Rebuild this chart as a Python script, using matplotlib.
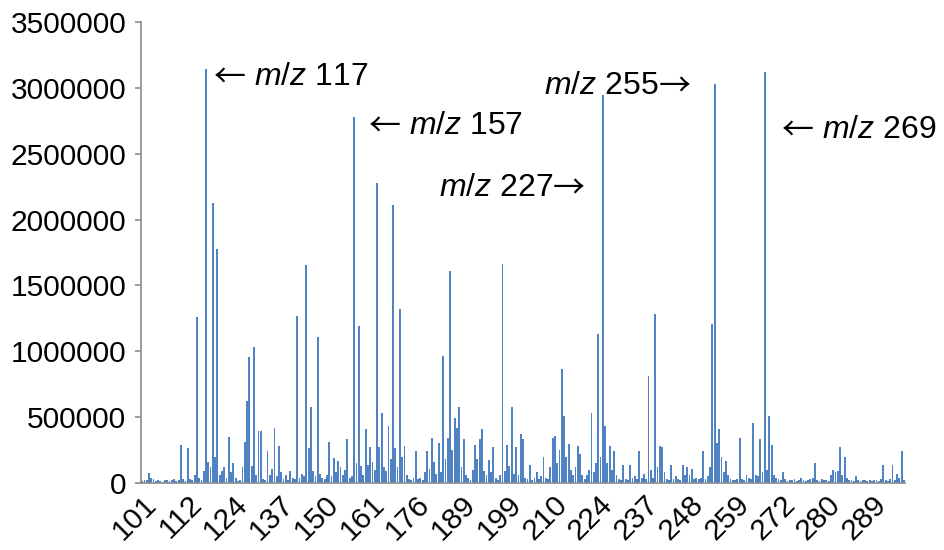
import matplotlib
matplotlib.use('Agg')
import matplotlib.pyplot as plt
import numpy as np

plt.rcParams['font.family'] = ['Liberation Sans', 'DejaVu Sans']
plt.rcParams['mathtext.fontset'] = 'custom'
plt.rcParams['mathtext.rm'] = 'Liberation Sans'
plt.rcParams['mathtext.it'] = 'Liberation Sans:italic'

# m/z shown under every 20th scan point
tick_labels = ['101', '112', '124', '137', '150', '161', '176', '189', '199',
               '210', '224', '237', '248', '259', '272', '280', '289']
label_step = 20

# intensity of each scan point, in thousands of counts
intensity_k = [
    15, 25, 20, 76, 35, 30, 18, 22, 12, 10, 20, 25, 15, 22, 30, 12, 20, 288, 30, 15,
    265, 30, 20, 60, 1260, 40, 25, 90, 3140, 160, 120, 2127, 200, 1775, 60, 90, 120, 40, 349, 80,
    150, 40, 15, 20, 120, 313, 624, 958, 130, 1032, 60, 397, 397, 30, 20, 245, 60, 110, 420, 50,
    283, 80, 30, 60, 20, 93, 40, 30, 1270, 40, 70, 50, 1654, 265, 574, 90, 50, 1105, 70, 40,
    30, 60, 313, 50, 190, 80, 170, 120, 60, 100, 334, 40, 50, 2775, 150, 1194, 130, 60, 407, 140,
    275, 160, 100, 2279, 275, 529, 120, 90, 435, 180, 2109, 263, 120, 1318, 200, 281, 60, 30, 20, 40,
    245, 30, 40, 20, 80, 245, 110, 344, 160, 70, 301, 80, 966, 180, 340, 1611, 250, 496, 420, 574,
    120, 331, 60, 40, 20, 100, 290, 180, 331, 407, 90, 60, 175, 80, 275, 40, 20, 60, 1661, 90,
    290, 130, 574, 70, 275, 60, 375, 331, 40, 30, 137, 20, 40, 80, 30, 50, 200, 40, 30, 120,
    344, 356, 150, 250, 862, 508, 200, 298, 100, 60, 120, 281, 220, 60, 30, 60, 100, 529, 80, 150,
    1130, 200, 2944, 435, 150, 283, 100, 245, 60, 30, 20, 137, 30, 20, 137, 40, 50, 30, 245, 40,
    70, 30, 812, 100, 40, 1282, 120, 281, 275, 80, 30, 20, 137, 30, 50, 30, 20, 137, 60, 118,
    60, 110, 30, 40, 30, 40, 245, 30, 50, 120, 1206, 3027, 300, 407, 200, 80, 170, 60, 30, 20,
    20, 30, 344, 30, 20, 60, 40, 30, 453, 60, 50, 331, 80, 3121, 100, 508, 290, 60, 40, 30,
    20, 86, 30, 15, 25, 20, 30, 15, 20, 35, 25, 15, 20, 30, 40, 149, 20, 15, 30, 20,
    25, 15, 60, 100, 80, 90, 276, 60, 200, 40, 20, 25, 15, 55, 20, 15, 25, 20, 15, 20,
    15, 20, 25, 15, 30, 137, 20, 15, 30, 137, 20, 70, 40, 245, 20,
]
intensity = np.array(intensity_k) * 1000

# peak notes: label, arrow side, scan position of the arrow's outer end, height
note_label = ['$m/z$ 117', '$m/z$ 157', '$m/z$ 227', '$m/z$ 255', '$m/z$ 269']
note_side = ['left', 'left', 'right', 'right', 'left']
note_x = [31.3, 99.2, 194.2, 240.5, 280.3]
note_y = [3080000, 2709000, 2238000, 3012000, 2678000]

fig = plt.figure(figsize=(9.45, 5.5), dpi=100)
ax = fig.add_axes([0.1492, 0.1218, 0.8085, 0.8382])

x = np.arange(len(intensity))
ax.bar(x, intensity, width=0.8, color='#5083C3', linewidth=0)

ax.set_xlim(-0.5, len(intensity) - 0.5)
ax.set_ylim(0, 3500000)
ax.set_yticks(np.arange(0, 3500001, 500000))
ax.yaxis.set_major_formatter(lambda v, p: f'{int(v)}')
ax.set_xticks(np.arange(len(tick_labels)) * label_step)
ax.set_xticklabels(tick_labels, rotation=45, ha='right', va='top',
                   rotation_mode='anchor')

for side in ['top', 'right']:
    ax.spines[side].set_visible(False)
for side in ['left', 'bottom']:
    ax.spines[side].set_color('#8c8c8c')
    ax.spines[side].set_linewidth(1.2)
ax.tick_params(axis='y', length=4.5, width=1.2, color='#8c8c8c', pad=6,
               labelsize=21.5)
ax.tick_params(axis='x', length=0, pad=5, labelsize=21.5)

note_size = 23
arrow_font = ['Noto Sans CJK JP', 'DejaVu Sans']
for lab, side, tx, ty in zip(note_label, note_side, note_x, note_y):
    if side == 'left':
        ax.text(tx, ty, '\u2190', ha='left', va='center', fontsize=note_size,
                family=arrow_font)
        ax.annotate(lab, (tx, ty), xytext=(29, 0), textcoords='offset points',
                    ha='left', va='center', fontsize=note_size)
    else:
        ax.text(tx, ty, '\u2192', ha='right', va='center', fontsize=note_size,
                family=arrow_font)
        ax.annotate(lab, (tx, ty), xytext=(-23, 0), textcoords='offset points',
                    ha='right', va='center', fontsize=note_size)

fig.savefig('out.png', dpi=100)
